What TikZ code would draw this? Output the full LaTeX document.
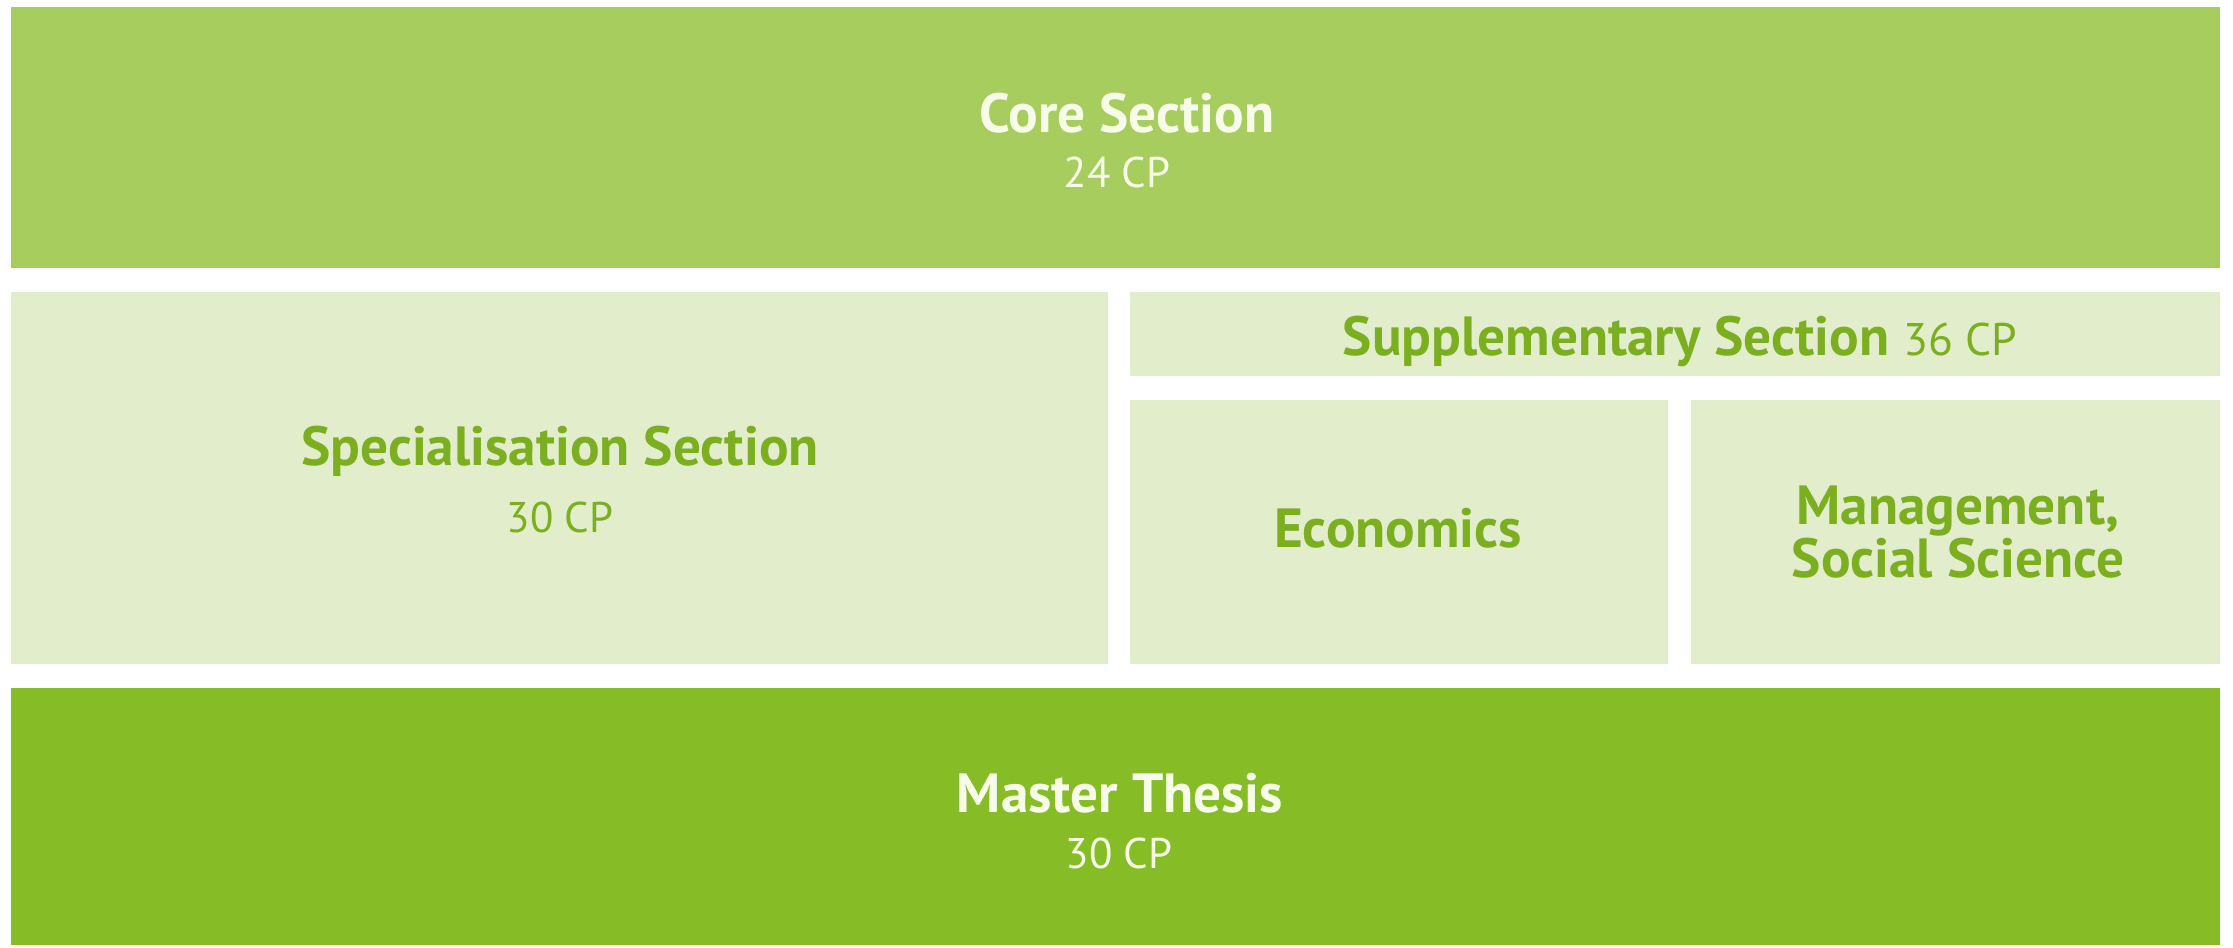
\documentclass[tikz,border=0pt]{standalone}
\usepackage{fontspec}
\setmainfont{PT Sans}
\definecolor{coreg}{HTML}{A6CD5E}
\definecolor{thesisg}{HTML}{86BC25}
\definecolor{paleg}{HTML}{E2EDCB}
\definecolor{textg}{HTML}{7BAF1F}
\definecolor{whitet}{HTML}{F7FCE8}
\tikzset{
  head/.style={anchor=base, inner sep=0pt, font=\fontsize{15.7}{19}\selectfont\bfseries},
  cp/.style={anchor=base, inner sep=0pt, font=\fontsize{12.2}{15}\selectfont},
  onlight/.style={text=textg},
  ondark/.style={text=whitet}
}
\begin{document}
\begin{tikzpicture}[x=0.01cm,y=-0.01cm]
\useasboundingbox[fill=white] (0,0) rectangle (2233,947);
% boxes
\fill[coreg] (11,7) rectangle (2220,268);
\fill[paleg] (11,292) rectangle (1108,664);
\fill[paleg] (1130,292) rectangle (2220,376);
\fill[paleg] (1130,400) rectangle (1668,664);
\fill[paleg] (1691,400) rectangle (2220,664);
\fill[thesisg] (11,688) rectangle (2220,945);
% texts
\node[head,ondark] (coret) at (1127,132) {Core Section};
\node[cp,ondark] (corecp) at (1117,187) {24 CP};
\node[head,onlight] (spect) at (560,465) {Specialisation Section};
\node[cp,onlight] (speccp) at (560,532) {30 CP};
\node[head,onlight] (suppt) at (1680,355) {Supplementary Section \fontsize{13}{15}\selectfont\mdseries 36 CP};
\node[head,onlight] (econt) at (1398,547) {Economics};
\node[head,onlight] (mgmt1) at (1958,524) {Management,};
\node[head,onlight] (mgmt2) at (1958,577) {Social Science};
\node[head,ondark] (thesist) at (1120,812) {Master Thesis};
\node[cp,ondark] (thesiscp) at (1119,868) {30 CP};
\end{tikzpicture}
\end{document}
